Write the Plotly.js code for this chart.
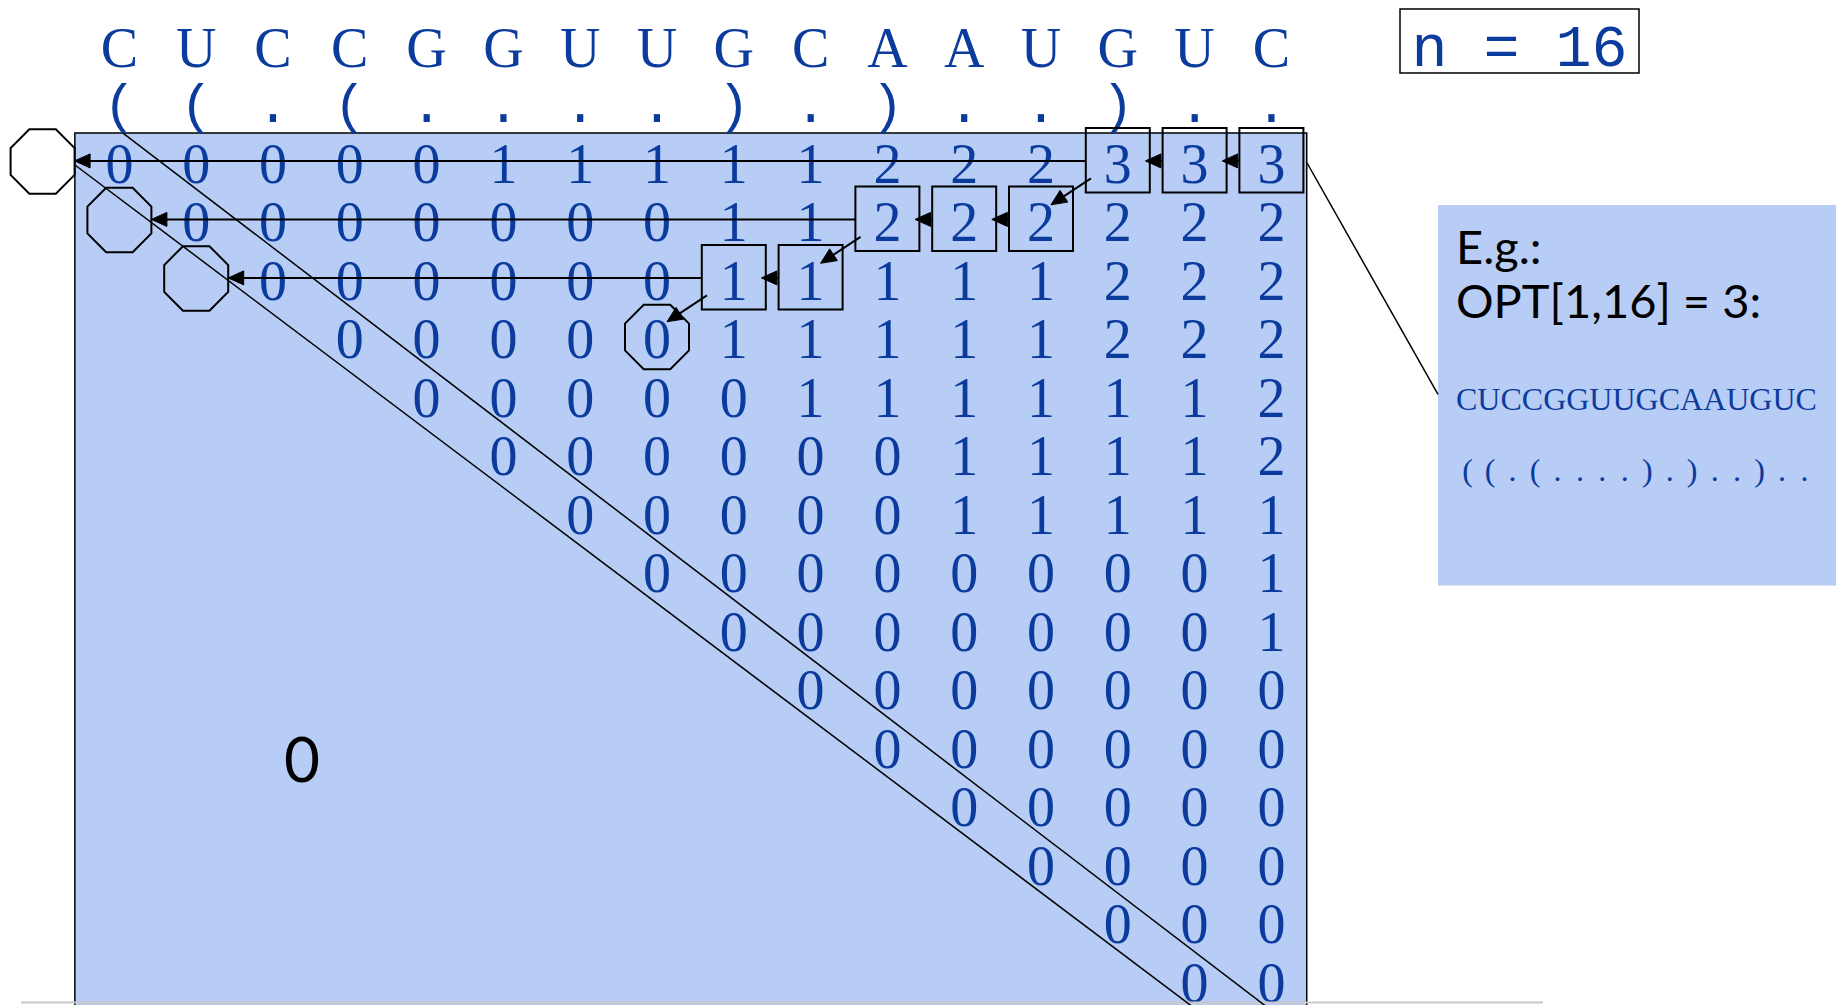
<!DOCTYPE html>
<html><head><meta charset="utf-8">
<script src="https://cdn.plot.ly/plotly-3.0.1.min.js"></script>
<style>html,body{margin:0;padding:0;background:#fff;}#chart{width:1836px;height:1005px;}</style>
</head><body><div id="chart"></div>
<script>
// ---------- data ----------
const sequence  = ['C','U','C','C','G','G','U','U','G','C','A','A','U','G','U','C'];
const structure = ['(','(','.','(','.','.','.','.',')','.',')','.','.',')','.','.'];
// OPT[i, j] for j >= i : row i starts at column i (rows visible in the picture)
const optRows = [
  [0,0,0,0,0,1,1,1,1,1,2,2,2,3,3,3],
  [0,0,0,0,0,0,0,1,1,2,2,2,2,2,2],
  [0,0,0,0,0,0,1,1,1,1,1,2,2,2],
  [0,0,0,0,0,1,1,1,1,1,2,2,2],
  [0,0,0,0,0,1,1,1,1,1,1,2],
  [0,0,0,0,0,0,1,1,1,1,2],
  [0,0,0,0,0,1,1,1,1,1],
  [0,0,0,0,0,0,0,0,1],
  [0,0,0,0,0,0,0,1],
  [0,0,0,0,0,0,0],
  [0,0,0,0,0,0],
  [0,0,0,0,0],
  [0,0,0,0],
  [0,0,0],
  [0,0]
];
// traceback: boxed cells [row, col] and base-case cells (octagons) [row, col]
const tracebackCells = [[0,13],[0,14],[0,15],[1,10],[1,11],[1,12],[2,8],[2,9]];
const baseCells = [[0,-1],[1,0],[2,1],[3,7]];
const nLabel = 'n = 16';
const exampleTitle = 'E.g.:';
const exampleValue = 'OPT[1,16] = 3:';
const exampleSequence = 'CUCCGGUUGCAAUGUC';
const exampleStructure = ['(','(','.','(','.','.','.','.',')','.',')','.','.',')','.','.'];
const lowerLabel = '0';

// ---------- geometry / style ----------
const W = 1836, H = 1005;
const X0 = 119.4, SX = 76.8, Y0 = 168.5, SY = 58.5;
const toX = p => (p - X0) / SX, toY = p => (p - Y0) / SY;
const fromX = x => X0 + SX * x, fromY = y => Y0 + SY * y;
const BLUE = '#0b3b9d', BG = '#b7cdf5';
const MONO = 'Liberation Mono, Courier New, monospace';
const SERIF = 'Liberation Serif, Times New Roman, serif';
const SANS = 'Lato, Gill Sans, sans-serif';
const HX = 32 / SX, HY = 32.25 / SY, BOXDY = -0.14, OCTDY = -0.12, ARDY = -0.13;

const shapes = [];
// main table background
shapes.push({type:'rect', xref:'x', yref:'y', x0:-0.58, x1:15.46, y0:toY(133), y1:toY(H + 20),
  fillcolor:BG, line:{color:'#000', width:1.5}, layer:'below'});
// example panel
shapes.push({type:'rect', xref:'x', yref:'y', x0:toX(1438), x1:toX(W + 20), y0:toY(205), y1:toY(585.5),
  fillcolor:BG, line:{width:0}, layer:'below'});
// n box
shapes.push({type:'rect', xref:'x', yref:'y', x0:toX(1400), x1:toX(1639), y0:toY(9), y1:toY(73),
  line:{color:'#000', width:1.5}});
// slide bottom edge
shapes.push({type:'line', xref:'x', yref:'y', x0:toX(21), x1:toX(1543), y0:toY(1002.5), y1:toY(1002.5),
  line:{color:'#c8c8c8', width:2}});
// connector to panel
shapes.push({type:'line', xref:'x', yref:'y', x0:toX(1306.8), y0:toY(162.5), x1:toX(1438), y1:toY(394.4),
  line:{color:'#000', width:1.5}});
// diagonal band lines
shapes.push({type:'line', xref:'x', yref:'y', x0:toX(123.3), y0:toY(133.3), x1:toX(1270.8), y1:toY(1010),
  line:{color:'#000', width:1.5}});
shapes.push({type:'line', xref:'x', yref:'y', x0:toX(75), y0:toY(165), x1:toX(1196.9), y1:toY(1010),
  line:{color:'#000', width:1.5}});

// boxes
tracebackCells.forEach(([r,c]) => {
  shapes.push({type:'rect', xref:'x', yref:'y', x0:c - HX, x1:c + HX, y0:r + BOXDY - HY, y1:r + BOXDY + HY,
    line:{color:'#000', width:2}});
});
// octagons
baseCells.forEach(([r,c]) => {
  const cx = fromX(c), cy = fromY(r + OCTDY), hx = 32, hy = 32.3, ax = hx * 0.4142, ay = hy * 0.4142;
  const pts = [[-ax,-hy],[ax,-hy],[hx,-ay],[hx,ay],[ax,hy],[-ax,hy],[-hx,ay],[-hx,-ay]];
  const path = pts.map((p,i) => (i ? 'L' : 'M') + toX(cx + p[0]) + ',' + toY(cy + p[1])).join(' ') + ' Z';
  shapes.push({type:'path', xref:'x', yref:'y', path, line:{color:'#000', width:2},
    fillcolor: c < 0 ? '#fff' : 'rgba(0,0,0,0)'});
});

function arrow(x1, y1, x2, y2) {
  const p1 = [fromX(x1), fromY(y1)], p2 = [fromX(x2), fromY(y2)];
  const dx = p2[0] - p1[0], dy = p2[1] - p1[1], len = Math.hypot(dx, dy);
  const ux = dx / len, uy = dy / len, nx = -uy, ny = ux;
  const L = 15.5, hw = 7;
  const bx = p2[0] - ux * L, by = p2[1] - uy * L;
  if (len > L) {
    shapes.push({type:'line', xref:'x', yref:'y', x0:x1, y0:y1, x1:toX(bx + ux * 2), y1:toY(by + uy * 2),
      line:{color:'#000', width:2}});
  }
  shapes.push({type:'path', xref:'x', yref:'y',
    path:`M${toX(p2[0])},${toY(p2[1])} L${toX(bx + nx * hw)},${toY(by + ny * hw)} L${toX(bx - nx * hw)},${toY(by - ny * hw)} Z`,
    fillcolor:'#000', line:{color:'#000', width:1}});
}

// arrows derived from traceback
const rowsWithBoxes = {};
tracebackCells.forEach(([r,c]) => { (rowsWithBoxes[r] = rowsWithBoxes[r] || []).push(c); });
Object.keys(rowsWithBoxes).forEach(k => {
  const r = +k, cols = rowsWithBoxes[k].slice().sort((a,b) => a - b);
  for (let i = 0; i < cols.length - 1; i++) arrow(cols[i+1] - HX, r + ARDY, cols[i] + 0.36, r + ARDY);
  const base = baseCells.find(b => b[0] === r);
  if (base) arrow(cols[0] - HX, r + ARDY, base[1] + HX, r + ARDY);
  const next = rowsWithBoxes[r + 1];
  const target = next ? Math.max(...next) : (baseCells.find(b => b[0] === r + 1) || [])[1];
  if (target !== undefined) arrow(cols[0] - 0.35, r + 0.17, target + 0.13, r + 1 - 0.38);
});

// ---------- traces ----------
const traces = [];
traces.push({type:'scatter', mode:'text', x:sequence.map((_,i) => i), y:sequence.map(() => -2 + 0.03), text:sequence,
  textposition:'middle center', textfont:{family:SERIF, size:56, color:BLUE}, hoverinfo:'skip'});
traces.push({type:'scatter', mode:'text', x:structure.map((_,i) => i), y:structure.map(() => -1.02), text:structure,
  textposition:'middle center', textfont:{family:MONO, size:54, color:BLUE}, hoverinfo:'skip'});
const mx = [], my = [], mt = [];
optRows.forEach((row, r) => row.forEach((v, k) => { mx.push(r + k); my.push(r); mt.push(String(v)); }));
traces.push({type:'scatter', mode:'text', x:mx, y:my, text:mt,
  textposition:'middle center', textfont:{family:SERIF, size:56, color:BLUE}, hoverinfo:'skip'});
traces.push({type:'scatter', mode:'text', x:[toX(1519.5)], y:[toY(51)], text:[nLabel],
  textposition:'middle center', textfont:{family:MONO, size:60, color:BLUE}, hoverinfo:'skip'});
traces.push({type:'scatter', mode:'text', x:[toX(302)], y:[toY(766)], text:[lowerLabel],
  textposition:'middle center', textfont:{family:SANS, size:62, color:'#000'}, hoverinfo:'skip'});
traces.push({type:'scatter', mode:'text', x:[toX(1456), toX(1456)], y:[toY(252), toY(306)], text:[exampleTitle, exampleValue],
  textposition:'middle right', marker:{size:1}, textfont:{family:SANS, size:47, color:'#000'}, hoverinfo:'skip'});
traces.push({type:'scatter', mode:'text', x:[toX(1456)], y:[toY(402)], text:[exampleSequence],
  textposition:'middle right', marker:{size:1}, textfont:{family:SERIF, size:32, color:BLUE}, hoverinfo:'skip'});
traces.push({type:'scatter', mode:'text', x:exampleStructure.map((_,i) => toX(1467.6 + 22.46 * i)),
  y:exampleStructure.map(() => toY(473)), text:exampleStructure,
  textposition:'middle center', textfont:{family:SERIF, size:32, color:BLUE}, hoverinfo:'skip'});

const layout = {
  width:W, height:H, margin:{l:0, r:0, t:0, b:0},
  paper_bgcolor:'#fff', plot_bgcolor:'#fff', showlegend:false,
  xaxis:{range:[toX(0), toX(W)], visible:false, fixedrange:true},
  yaxis:{range:[toY(H), toY(0)], visible:false, fixedrange:true},
  shapes
};
Plotly.newPlot('chart', traces, layout, {staticPlot:true, displayModeBar:false});
</script></body></html>
